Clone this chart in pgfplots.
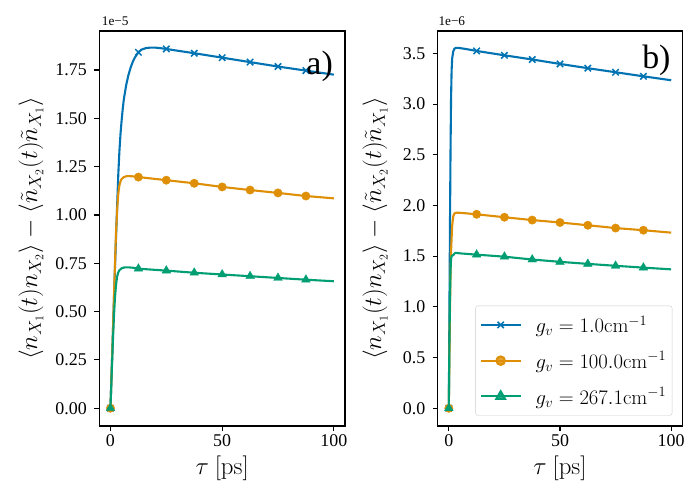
\documentclass[border=0pt]{standalone}
\usepackage[no-math]{fontspec}
\setmainfont{Liberation Serif}
\usepackage{pgfplots}
\pgfplotsset{compat=1.18}
\definecolor{cbblue}{HTML}{0173B2}
\definecolor{cborange}{HTML}{DE8F05}
\definecolor{cbgreen}{HTML}{029E73}
\pgfplotsset{
  panel/.style={
    scale only axis, anchor=south west,
    axis line style={line width=1.1bp},
    tick align=outside, tick pos=left,
    major tick length=4.9bp,
    major tick style={line width=1.1bp, black},
    tick label style={font=\fontsize{18}{20}\selectfont},
    yticklabel style={xshift=-4bp},
    xmin=-5, xmax=105,
    xtick={0,50,100}, xticklabels={0,50,100},
    every axis x label/.style={at={(axis description cs:0.5,-0.124)}, anchor=base, font=\fontsize{24}{28}\selectfont},
    xlabel={$\tau\ [\mathrm{ps}]$},
    ylabel={$\left\langle n_{X_1}(t) n_{X_2} \right\rangle - \left\langle \tilde{n}_{X_2}(t) \tilde{n}_{X_1} \right\rangle$},
  },
  bl/.style={cbblue, line width=2.1bp, mark=none},
  ol/.style={cborange, line width=2.1bp, mark=none},
  gl/.style={cbgreen, line width=2.1bp, mark=none},
  bm/.style={cbblue, only marks, mark=x, mark size=4.5bp, mark options={line width=1.5bp, solid}},
  om/.style={cborange, only marks, mark=*, mark size=4.2bp, mark options={solid, fill=cborange, draw=cborange}},
  gm/.style={cbgreen, only marks, mark=triangle*, mark size=5bp, mark options={solid, fill=cbgreen, draw=cbgreen}},
}
\begin{document}
\begin{tikzpicture}[x=1bp,y=1bp]
\path[use as bounding box] (0,0) rectangle (700,500);
% ---------------- panel a
\begin{axis}[panel, at={(99.3bp,74bp)}, width=245.7bp, height=395bp,
  ymin=-0.092, ymax=1.952,
  ytick={0,0.25,0.5,0.75,1,1.25,1.5,1.75},
  yticklabels={0.00,0.25,0.50,0.75,1.00,1.25,1.50,1.75},
  every axis y label/.style={at={(axis description cs:-0.278,0.5)}, rotate=90, anchor=center, font=\fontsize{24}{28}\selectfont},
]
\addplot[bl] coordinates {(0,0) (0.5,0.18) (1,0.36) (1.5,0.54) (2,0.72) (2.5,0.89) (3,1.05) (3.5,1.21) (4,1.33) (4.5,1.42) (5,1.49) (5.5,1.55) (6,1.60) (7,1.67) (8,1.722) (9,1.762) (10,1.793) (11,1.816) (12.5,1.842) (14,1.856) (16,1.864) (18,1.866) (20,1.866) (22.5,1.863) (25,1.859) (30,1.850) (37.5,1.837) (50,1.814) (62.5,1.791) (75,1.768) (87.5,1.747) (100,1.726)};
\addplot[bm] coordinates {(0,0) (12.5,1.842) (25,1.859) (37.5,1.837) (50,1.814) (62.5,1.791) (75,1.768) (87.5,1.747)};
\addplot[ol] coordinates {(0,0) (0.5,0.18) (1,0.36) (1.5,0.55) (2,0.74) (2.5,0.91) (3,1.03) (3.5,1.11) (4,1.153) (4.5,1.174) (5,1.186) (6,1.196) (7,1.200) (8,1.201) (10,1.200) (12.5,1.196) (15,1.193) (25,1.180) (37.5,1.164) (50,1.145) (62.5,1.129) (75,1.114) (87.5,1.098) (100,1.086)};
\addplot[om] coordinates {(0,0) (12.5,1.196) (25,1.180) (37.5,1.164) (50,1.145) (62.5,1.129) (75,1.114) (87.5,1.098)};
\addplot[gl] coordinates {(0,0) (0.5,0.165) (1,0.32) (1.5,0.46) (2,0.57) (2.5,0.64) (3,0.682) (3.5,0.703) (4,0.714) (5,0.724) (6,0.728) (7,0.729) (8,0.729) (10,0.727) (12.5,0.722) (25,0.712) (37.5,0.701) (50,0.692) (62.5,0.683) (75,0.674) (87.5,0.665) (100,0.657)};
\addplot[gm] coordinates {(0,0) (12.5,0.722) (25,0.712) (37.5,0.701) (50,0.692) (62.5,0.683) (75,0.674) (87.5,0.665)};
\end{axis}
% ---------------- panel b
\begin{axis}[panel, at={(437.7bp,74bp)}, width=244.6bp, height=395bp,
  ymin=-0.175, ymax=3.721,
  ytick={0,0.5,1,1.5,2,2.5,3,3.5},
  yticklabels={0.0,0.5,1.0,1.5,2.0,2.5,3.0,3.5},
  every axis y label/.style={at={(axis description cs:-0.256,0.5)}, rotate=90, anchor=center, font=\fontsize{24}{28}\selectfont},
  legend style={at={(1,0)}, anchor=south east, xshift=-10bp, yshift=10.3bp,
    draw=black!20, rounded corners=2.5bp, fill=white, fill opacity=0.8, text opacity=1,
    font=\fontsize{21}{24}\selectfont, row sep=13.5bp, inner xsep=4bp, inner ysep=8bp},
  legend cell align=left,
  legend image code/.code={\draw[mark repeat=2, mark phase=2, #1] plot coordinates {(0bp,0bp) (20bp,0bp) (40bp,0bp)}; \path (52bp,0bp);},
]
\addplot[bl, forget plot] coordinates {(0,0) (0.25,0.9) (0.5,1.75) (0.75,2.5) (1,3.05) (1.25,3.33) (1.5,3.45) (2,3.52) (2.5,3.545) (3,3.553) (4,3.555) (6,3.549) (9,3.538) (12.5,3.524) (25,3.481) (37.5,3.440) (50,3.396) (62.5,3.354) (75,3.314) (87.5,3.274) (100,3.235)};
\addplot[bm, forget plot] coordinates {(0,0) (12.5,3.524) (25,3.481) (37.5,3.440) (50,3.396) (62.5,3.354) (75,3.314) (87.5,3.274)};
\addplot[ol, forget plot] coordinates {(0,0) (0.25,0.5) (0.5,0.95) (0.75,1.3) (1,1.55) (1.5,1.8) (2,1.895) (2.5,1.92) (3,1.927) (4,1.929) (6,1.926) (9,1.920) (12.5,1.913) (25,1.884) (37.5,1.856) (50,1.832) (62.5,1.805) (75,1.777) (87.5,1.756) (100,1.732)};
\addplot[om, forget plot] coordinates {(0,0) (12.5,1.913) (25,1.884) (37.5,1.856) (50,1.832) (62.5,1.805) (75,1.777) (87.5,1.756)};
\addplot[gl, forget plot] coordinates {(0,0) (0.25,0.6) (0.5,1.05) (0.75,1.35) (1,1.47) (1.25,1.50) (1.5,1.505) (2,1.51) (2.5,1.525) (3,1.533) (3.5,1.533) (4,1.530) (6,1.526) (9,1.521) (12.5,1.515) (25,1.495) (37.5,1.467) (50,1.444) (62.5,1.424) (75,1.405) (87.5,1.387) (100,1.370)};
\addplot[gm, forget plot] coordinates {(0,0) (12.5,1.515) (25,1.495) (37.5,1.467) (50,1.444) (62.5,1.424) (75,1.405) (87.5,1.387)};
\addlegendimage{cbblue, line width=2.1bp, mark=x, mark size=4.5bp, mark options={line width=1.5bp, solid}}
\addlegendentry{$g_v = 1.0\mathrm{cm}^{-1}$}
\addlegendimage{cborange, line width=2.1bp, mark=*, mark size=4.2bp, mark options={solid, fill=cborange}}
\addlegendentry{$g_v = 100.0\mathrm{cm}^{-1}$}
\addlegendimage{cbgreen, line width=2.1bp, mark=triangle*, mark size=5bp, mark options={solid, fill=cbgreen}}
\addlegendentry{$g_v = 267.1\mathrm{cm}^{-1}$}
\end{axis}
% offset texts and panel letters
\node[anchor=base west, inner sep=0pt, font=\fontsize{13.3}{15}\selectfont] at (101.7,474) {1e−5};
\node[anchor=base west, inner sep=0pt, font=\fontsize{13.3}{15}\selectfont] at (438.3,474) {1e−6};
\node[anchor=base east, inner sep=0pt, font=\fontsize{34}{38}\selectfont] at (333,425) {a)};
\node[anchor=base east, inner sep=0pt, font=\fontsize{34}{38}\selectfont] at (670.7,431.5) {b)};
\end{tikzpicture}
\end{document}
